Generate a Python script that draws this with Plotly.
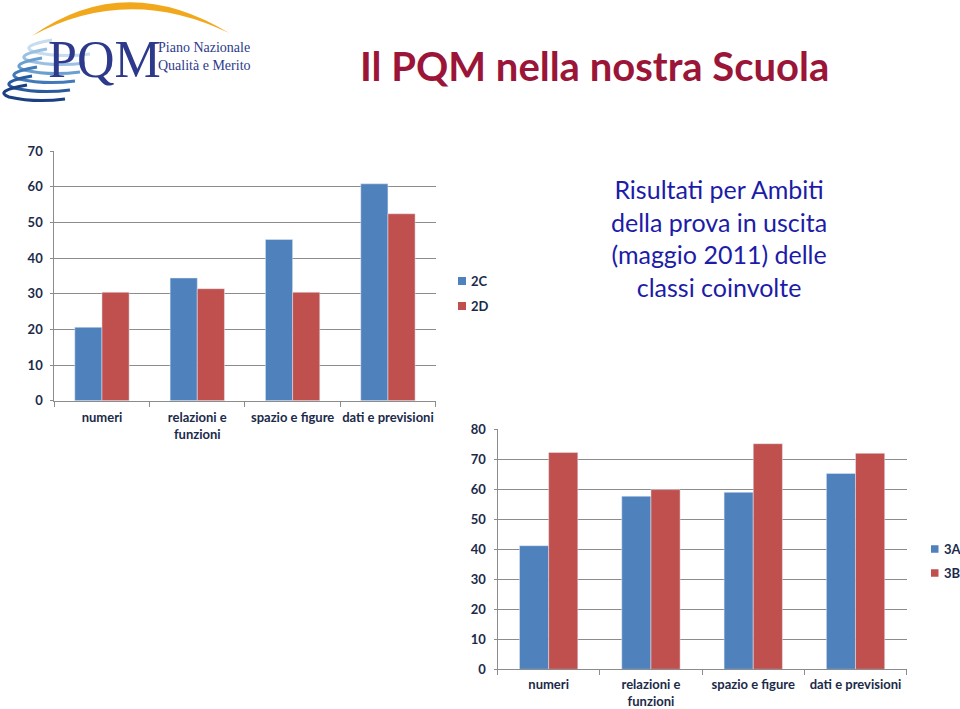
import plotly.graph_objects as go

W, H = 960, 709

categories = ["numeri", "relazioni e<br>funzioni", "spazio e figure", "dati e previsioni"]
series_top = ["2C", "2D"]
series_bottom = ["3A", "3B"]
vals_2C = [20.6, 34.4, 45.2, 60.8]
vals_2D = [30.4, 31.4, 30.4, 52.4]
vals_3A = [41.2, 57.7, 59.0, 65.3]
vals_3B = [72.3, 59.9, 75.2, 72.0]

BLUE = "#4f81bd"
RED = "#c0504d"
NAVY = "#1b2a4a"
GRID = "#8c8c8c"
FONT = "Lato"


def px(x):
    return x / W


def py(y):
    return 1 - y / H


fig = go.Figure()

fig.add_trace(go.Bar(x=categories, y=vals_2C, name=series_top[0], marker_color=BLUE,
                     xaxis="x", yaxis="y"))
fig.add_trace(go.Bar(x=categories, y=vals_2D, name=series_top[1], marker_color=RED,
                     xaxis="x", yaxis="y"))
fig.add_trace(go.Bar(x=categories, y=vals_3A, name=series_bottom[0], marker_color=BLUE,
                     xaxis="x2", yaxis="y2"))
fig.add_trace(go.Bar(x=categories, y=vals_3B, name=series_bottom[1], marker_color=RED,
                     xaxis="x2", yaxis="y2"))

xaxis_common = dict(type="category", tickson="boundaries", ticks="outside", ticklen=5,
                    tickcolor=GRID, showline=True, linecolor=GRID, linewidth=1,
                    showgrid=False, tickangle=0, fixedrange=True,
                    tickfont=dict(family=FONT, size=13, color=NAVY, weight="bold"))
yaxis_common = dict(showline=True, linecolor=GRID, linewidth=1, ticks="outside", ticklen=3,
                    tickcolor=GRID, showgrid=True, gridcolor=GRID, gridwidth=1,
                    zeroline=False, dtick=10, fixedrange=True, ticklabelstandoff=5,
                    tickfont=dict(family=FONT, size=13, color=NAVY, weight="bold"))

fig.update_layout(
    width=W, height=H,
    margin=dict(l=0, r=0, t=0, b=0, autoexpand=False),
    paper_bgcolor="white", plot_bgcolor="white",
    barmode="group", bargap=0.43, bargroupgap=0,
    font=dict(family=FONT, color=NAVY),
    xaxis=dict(domain=[px(54.3), px(435.6)], anchor="y", ticklabelstandoff=5, **xaxis_common),
    yaxis=dict(domain=[py(400.7), py(151)], anchor="x", range=[0, 70], **yaxis_common),
    xaxis2=dict(domain=[px(497.5), px(906.7)], anchor="y2", ticklabelstandoff=3, **xaxis_common),
    yaxis2=dict(domain=[py(669.3), py(429.3)], anchor="x2", range=[0, 80], **yaxis_common),
    showlegend=False,
)


# Legends (swatch + label) for each chart
def add_legend(names, colors, sx, sy, dy, size):
    for i, (n, c) in enumerate(zip(names, colors)):
        cy = sy + i * dy
        fig.add_shape(type="rect", xref="paper", yref="paper",
                      x0=px(sx), x1=px(sx + size), y0=py(cy + size / 2), y1=py(cy - size / 2),
                      fillcolor=c, line=dict(width=0))
        fig.add_annotation(text=f"<b>{n}</b>", xref="paper", yref="paper",
                           x=px(sx + size + 3), y=py(cy), xanchor="left", yanchor="middle",
                           showarrow=False, font=dict(family=FONT, size=13, color=NAVY))


add_legend(series_top, [BLUE, RED], 458, 281, 25, 8)
add_legend(series_bottom, [BLUE, RED], 931, 549, 24, 7.5)

# Title
fig.add_annotation(text="<b>Il PQM nella nostra Scuola</b>", xref="paper", yref="paper",
                   x=px(594), y=py(66), xanchor="center", yanchor="middle", showarrow=False,
                   font=dict(family=FONT, size=40, color="#9b1538"))

# Description text box
fig.add_annotation(text="Risultati per Ambiti<br>della prova in uscita<br>(maggio 2011) delle<br>classi coinvolte",
                   xref="paper", yref="paper", x=px(719), y=py(238), xanchor="center",
                   yanchor="middle", showarrow=False, align="center",
                   font=dict(family=FONT, size=25, color="#1c1ca8"))


# Logo (decorative)
def P(x, y):
    return f"{px(x):.5f},{py(y):.5f}"


arc = f"M {P(32,36)} Q {P(125,-30)} {P(229,33)} Q {P(127,-16)} {P(32,36)} Z"
fig.add_shape(type="path", path=arc, xref="paper", yref="paper",
              fillcolor="#f2a81d", line=dict(width=0))
swoosh_cols = ["#c6dcef", "#9cc0e2", "#6a9fd0", "#4279b8", "#2a5a9e", "#1b3f80"]
for i, c in enumerate(swoosh_cols):
    y0 = 40 + i * 9
    x0 = 30 - i * 5
    sw = f"M {P(x0+22, y0)} Q {P(x0-12, y0+6)} {P(x0+4, y0+12)} Q {P(x0+30, y0+18)} {P(x0+60, y0+14)}"
    fig.add_shape(type="path", path=sw, xref="paper", yref="paper",
                  line=dict(color=c, width=3))
fig.add_annotation(text="PQM", xref="paper", yref="paper", x=px(104), y=py(60),
                   xanchor="center", yanchor="middle", showarrow=False,
                   font=dict(family="Liberation Serif", size=52, color="#2d3a8c"))
fig.add_annotation(text="Piano Nazionale<br>Qualità e Merito", xref="paper", yref="paper",
                   x=px(156), y=py(57), xanchor="left", yanchor="middle", showarrow=False,
                   align="left",
                   font=dict(family="Liberation Serif", size=14, color="#2d3a8c"))

fig.write_html("out.html")
